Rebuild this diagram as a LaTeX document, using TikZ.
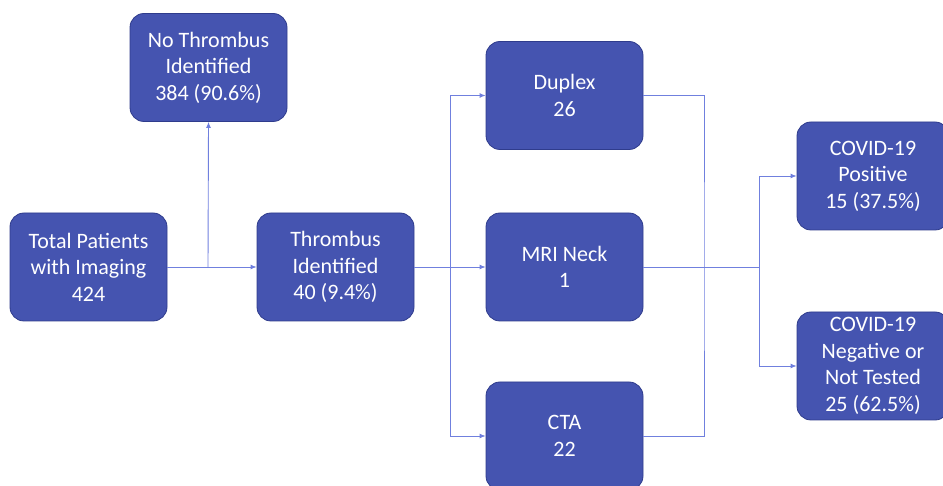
\documentclass[tikz,border=0pt]{standalone}
\usepackage{fontspec}
\setmainfont{Carlito}
\usepackage{tikz}
\usetikzlibrary{arrows.meta,positioning,calc}
\definecolor{boxblue}{RGB}{69,84,176}
\definecolor{boxedge}{RGB}{47,60,140}
\definecolor{linkblue}{RGB}{112,128,222}

\begin{document}
\begin{tikzpicture}[x=1pt, y=1pt,
    box/.style={rectangle, rounded corners=14pt, draw=boxedge, fill=boxblue, line width=0.8pt,
                minimum width=157pt, minimum height=108pt, text=white, align=center,
                font=\fontsize{22}{26.5}\selectfont},
    arr/.style={-{Latex[length=6pt, width=5pt]}, draw=linkblue, line width=0.9pt},
    lnk/.style={draw=linkblue, line width=0.9pt}
]
\useasboundingbox (0,0) rectangle (943,485);
\clip (0,0) rectangle (943,485);

\node[box] (notb) at (208.5,417.5) {No Thrombus\\Identified\\384 (90.6\%)};
\node[box] (total) at (88.5,218) {Total Patients\\with Imaging\\424};
\node[box] (thromb) at (335.5,218) {Thrombus\\Identified\\40 (9.4\%)};
\node[box] (duplex) at (564.5,389.5) {Duplex\\26};
\node[box] (mri) at (564.5,218) {MRI Neck\\1};
\node[box] (cta) at (564.5,49) {CTA\\22};
\node[box, minimum width=152pt] (pos) at (873,309) {COVID-19\\Positive\\15 (37.5\%)};
\node[box, minimum width=152pt] (neg) at (873,119) {COVID-19\\Negative or\\Not Tested\\25 (62.5\%)};

% junctions
\coordinate (j1) at (208,218);
\coordinate (j2) at (450,218);
\coordinate (j3) at (704,218);
\coordinate (j4) at (759,218);

\draw[arr] (total.east) -- (thromb.west);
\draw[arr] (j1) -- (notb.south);
\draw[arr] (thromb.east) -- (mri.west);
\draw[arr] (j2) |- (duplex.west);
\draw[arr] (j2) |- (cta.west);
\draw[lnk] (duplex.east) -| (j3) |- (cta.east);
\draw[lnk] (mri.east) -- (j4);
\draw[arr] (j4) |- (pos.west);
\draw[arr] (j4) |- (neg.west);
\end{tikzpicture}
\end{document}
